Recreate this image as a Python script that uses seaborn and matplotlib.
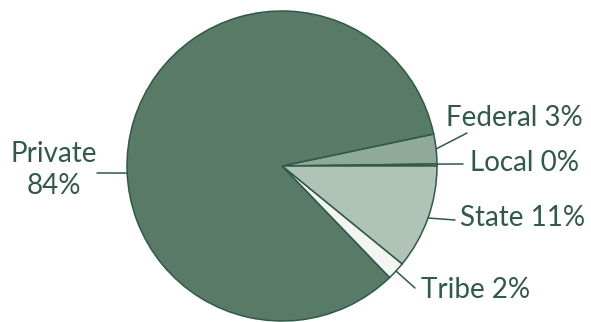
import numpy as np
import matplotlib
matplotlib.use("Agg")
import matplotlib.pyplot as plt
import seaborn as sns

# ownership shares (percent)
labels = ["Federal", "Local", "State", "Tribe", "Private"]
shares = [3.1, 0.2, 10.9, 1.9, 83.9]
shown = ["3%", "0%", "11%", "2%", "84%"]
colors = ["#8fa99a", "#9fb6a8", "#afc3b6", "#f2f5f1", "#587a66"]

sns.set_theme(style="white")
plt.rcParams["font.family"] = ["Lato", "DejaVu Sans"]

ink = "#2e5a47"
W, H = 591, 322
R, cx, cy = 155.0, 282.0, 166.0  # pie radius and centre in pixels

fig = plt.figure(figsize=(W / 100, H / 100), dpi=100)
ax = fig.add_axes([0, 0, 1, 1])

wedges, _ = ax.pie(shares, colors=colors, startangle=11.9, counterclock=False,
                   radius=1, wedgeprops=dict(edgecolor=ink, linewidth=1.1))

ax.set_xlim(-cx / R, (W - cx) / R)
ax.set_ylim(-(H - cy) / R, cy / R)
ax.set_aspect("equal", adjustable="box")
ax.axis("off")


def px(x, y):
    return ((x - cx) / R, (cy - y) / R)


# leader line end and text anchor (pixels); Private uses its own angle
layout = {
    "Federal": dict(end=(467, 133), text=(446, 118), ha="left", ang=None),
    "Local": dict(end=(463, 164), text=(470, 163), ha="left", ang=0.7),
    "State": dict(end=(455, 220), text=(460, 218), ha="left", ang=None),
    "Tribe": dict(end=(415, 288), text=(421, 290), ha="left", ang=None),
    "Private": dict(end=(97, 173), text=(54, 170), ha="center", ang=182.6),
}

for w, lab, s in zip(wedges, labels, shown):
    cfg = layout[lab]
    ang = cfg["ang"] if cfg["ang"] is not None else (w.theta1 + w.theta2) / 2
    a = np.deg2rad(ang)
    start = (np.cos(a), np.sin(a))
    end = px(*cfg["end"])
    ax.plot([start[0], end[0]], [start[1], end[1]], color=ink, lw=1.1)
    txt = f"{lab} {s}" if lab != "Private" else f"{lab}\n{s}"
    ax.text(*px(*cfg["text"]), txt, ha=cfg["ha"], va="center", fontsize=20,
            color=ink, fontweight="normal", linespacing=1.25)

fig.savefig("out.png", dpi=100, facecolor="white")
